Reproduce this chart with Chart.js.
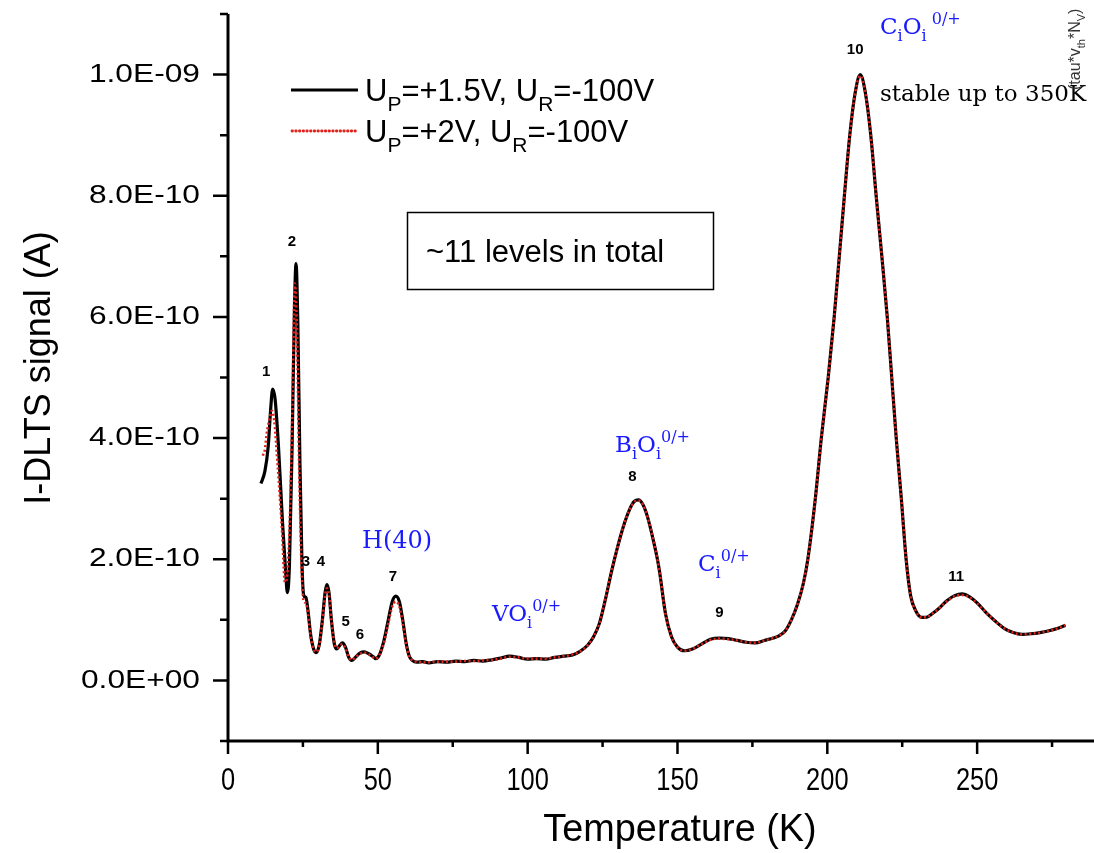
<!DOCTYPE html>
<html>
<head>
<meta charset="utf-8">
<script src="https://cdn.jsdelivr.net/npm/chart.js@4"></script>
<style>
  html, body { margin: 0; padding: 0; background: #fff; }
  canvas { display: block; }
</style>
</head>
<body>
<canvas id="dltsChart" width="1094" height="853"></canvas>
<script>
// signal values are in units of 1e-10 A
const tempBlack = [
  11.0, 12.3, 13.4, 14.2, 14.9, 15.7, 16.8, 18.2, 19.3, 19.8, 20.5, 21.4, 22.2, 22.7, 23.3, 24.0,
  24.7, 25.3, 26.0, 26.7, 27.6, 28.7, 29.5, 30.5, 31.5, 32.4, 33.0, 33.7, 34.5, 35.5, 36.3, 37.3,
  38.2, 39.2, 40.3, 41.3, 42.5, 44.0, 45.5, 47.0, 48.5, 49.3, 50.5, 52.0, 53.5, 54.8, 56.0, 57.2,
  58.3, 59.5, 60.5, 61.5, 63, 65, 67, 70, 73, 76, 79, 82, 85, 88, 91, 94, 97, 100, 103, 106, 109,
  112, 115, 117.5, 120, 122, 124, 126, 128, 130, 132, 134, 135.5, 137, 138.5, 140, 142, 143.3, 144,
  146, 148, 150, 152.3, 155, 158, 161, 164, 167, 170, 173, 176, 179, 182, 184, 186, 188, 190, 192,
  193.5, 196, 198, 200.3, 202.3, 204, 205.7, 207.5, 209.3, 211, 212.7, 214.5, 216.3, 218.2, 220,
  221.5, 223, 224.7, 226.3, 227.8, 229.5, 231.5, 233, 235, 237.5, 240, 242.5, 245, 247.5, 250, 253,
  256, 259, 262, 265, 268, 271, 274, 277, 279.5
];
const signalBlack = [
  3.25, 3.45, 3.85, 4.45, 4.81, 4.65, 3.9, 2.6, 1.75, 1.45, 1.9, 3.9, 6.2, 6.88, 5.9, 3.6,
  1.9, 1.4, 1.37, 1.15, 0.75, 0.50, 0.46, 0.6, 1.0, 1.45, 1.58, 1.45, 1.0, 0.6, 0.52, 0.58,
  0.62, 0.55, 0.38, 0.33, 0.38, 0.45, 0.47, 0.44, 0.39, 0.36, 0.42, 0.65, 1.0, 1.3, 1.39, 1.3,
  1.0, 0.6, 0.40, 0.33, 0.30, 0.31, 0.29, 0.31, 0.30, 0.32, 0.31, 0.33, 0.32, 0.34, 0.37, 0.40, 0.38, 0.35, 0.36, 0.35, 0.38,
  0.40, 0.42, 0.48, 0.58, 0.72, 0.95, 1.35, 1.8, 2.2, 2.55, 2.82, 2.95, 2.98, 2.9, 2.7, 2.3, 2.0, 1.8,
  1.1, 0.72, 0.55, 0.49, 0.52, 0.60, 0.68, 0.70, 0.69, 0.66, 0.63, 0.62, 0.66, 0.70, 0.74, 0.82, 1.0, 1.25, 1.6,
  2.0, 3.0, 4.0, 5.0, 6.0, 7.0, 8.0, 9.0, 9.7, 10.0, 9.7, 9.0, 8.0, 7.0, 6.0,
  5.0, 4.0, 3.0, 2.0, 1.4, 1.15, 1.04, 1.04, 1.10, 1.2, 1.32, 1.40, 1.43, 1.38, 1.28, 1.12,
  0.98, 0.86, 0.79, 0.76, 0.77, 0.79, 0.82, 0.86, 0.91
];

const tempRed = [
  11.6, 12.3, 12.9, 13.8, 14.6, 15.4, 16.5, 18.0, 19.0, 19.8, 20.6, 21.5, 22.3, 23.0, 23.8, 24.6,
  25.3, 26.0, 26.7, 27.6, 28.7, 29.5, 30.5, 31.5, 32.4, 33.0, 33.7, 34.5, 35.5, 36.3, 37.3,
  38.2, 39.2, 40.3, 41.3, 42.5, 44.0, 45.5, 47.0, 48.5, 49.3, 50.5, 52.0, 53.5, 54.8, 56.0, 57.2,
  58.3, 59.5, 60.5, 61.5, 63, 65, 67, 70, 73, 76, 79, 82, 85, 88, 91, 94, 97, 100, 103, 106, 109,
  112, 115, 117.5, 120, 122, 124, 126, 128, 130, 132, 134, 135.5, 137, 138.5, 140, 142, 143.3, 144,
  146, 148, 150, 152.3, 155, 158, 161, 164, 167, 170, 173, 176, 179, 182, 184, 186, 188, 190, 192,
  193.5, 196, 198, 200.3, 202.3, 204, 205.7, 207.5, 209.3, 211, 212.7, 214.5, 216.3, 218.2, 220,
  221.5, 223, 224.7, 226.3, 227.8, 229.5, 231.5, 233, 235, 237.5, 240, 242.5, 245, 247.5, 250, 253,
  256, 259, 262, 265, 268, 271, 274, 277, 279.5
];
const signalRed = [
  3.71, 3.80, 4.07, 4.3, 4.45, 4.3, 3.6, 2.5, 1.62, 1.75, 2.6, 4.5, 6.55, 5.8, 3.4, 1.8,
  1.3, 1.28, 1.1, 0.72, 0.50, 0.47, 0.6, 0.98, 1.4, 1.52, 1.42, 1.0, 0.62, 0.53, 0.57,
  0.60, 0.53, 0.38, 0.34, 0.38, 0.44, 0.46, 0.43, 0.38, 0.36, 0.42, 0.62, 0.95, 1.22, 1.30, 1.22,
  0.95, 0.58, 0.40, 0.33, 0.31, 0.30, 0.30, 0.31, 0.31, 0.31, 0.32, 0.32, 0.33, 0.34, 0.36, 0.39, 0.38, 0.36, 0.36, 0.36, 0.38,
  0.40, 0.43, 0.48, 0.58, 0.72, 0.95, 1.35, 1.8, 2.2, 2.55, 2.82, 2.94, 2.97, 2.9, 2.7, 2.3, 2.0, 1.8,
  1.1, 0.72, 0.55, 0.49, 0.52, 0.60, 0.67, 0.69, 0.68, 0.66, 0.63, 0.62, 0.66, 0.70, 0.74, 0.82, 1.0, 1.25, 1.6,
  2.0, 3.0, 4.0, 5.0, 6.0, 7.0, 8.0, 9.0, 9.7, 9.98, 9.7, 9.0, 8.0, 7.0, 6.0,
  5.0, 4.0, 3.0, 2.0, 1.4, 1.15, 1.04, 1.04, 1.10, 1.2, 1.31, 1.39, 1.41, 1.37, 1.27, 1.12,
  0.98, 0.86, 0.79, 0.76, 0.77, 0.79, 0.82, 0.86, 0.91
];

const xMajorTicks = [0, 50, 100, 150, 200, 250];
const xMinorTicks = [25, 75, 125, 175, 225, 275];
const yMajorTicks = [0, 2, 4, 6, 8, 10];
const yTickLabels = ['0.0E+00', '2.0E-10', '4.0E-10', '6.0E-10', '8.0E-10', '1.0E-09'];
const yMinorTicks = [-1, 1, 3, 5, 7, 9, 11];

// peak numbers, placed at (T, signal)
const peakNames = ['1', '2', '3', '4', '5', '6', '7', '8', '9', '10', '11'];
const peakT = [12.7, 21.3, 26.0, 31.0, 39.3, 44.0, 55.0, 135.0, 164.0, 209.3, 243.0];
const peakY = [5.10, 7.24, 1.95, 1.95, 0.97, 0.76, 1.71, 3.36, 1.12, 10.40, 1.71];

const toPoints = (xs, ys) => xs.map((t, i) => ({ x: t, y: ys[i] }));

const BLUE = '#1a1aff';
const RED = '#e0221c';
const SERIF = '"DejaVu Serif", serif';
const SANS = '"Liberation Sans", Arial, sans-serif';

// draws text made of normal / subscript / superscript pieces
function richText(ctx, x, y, parts, size, family) {
  let cx = x;
  parts.forEach(([txt, kind]) => {
    const s = kind === 'n' ? size : Math.round(size * 0.68);
    const dy = kind === 'sub' ? size * 0.32 : kind === 'sup' ? -size * 0.42 : 0;
    ctx.font = s + 'px ' + family;
    ctx.fillText(txt, cx, y + dy);
    cx += ctx.measureText(txt).width;
  });
  return cx;
}

function stretchedText(ctx, txt, x, y, sx, align) {
  ctx.save();
  ctx.translate(x, y);
  ctx.scale(sx, 1);
  ctx.textAlign = align;
  ctx.fillText(txt, 0, 0);
  ctx.restore();
}

const decorations = {
  id: 'decorations',
  afterDraw(chart) {
    const ctx = chart.ctx;
    const xs = chart.scales.x, ys = chart.scales.y;
    const left = xs.left, bottom = ys.bottom, top = ys.top;
    ctx.save();
    ctx.fillStyle = '#000';
    ctx.strokeStyle = '#000';
    ctx.lineCap = 'butt';

    // axes
    ctx.lineWidth = 3;
    ctx.beginPath();
    ctx.moveTo(left, top);
    ctx.lineTo(left, bottom + 1.5);
    ctx.moveTo(left - 1.5, bottom);
    ctx.lineTo(chart.width, bottom);
    ctx.stroke();

    // x ticks
    ctx.lineWidth = 2.5;
    ctx.beginPath();
    xMajorTicks.forEach(v => { const p = xs.getPixelForValue(v); ctx.moveTo(p, bottom); ctx.lineTo(p, bottom + 13); });
    xMinorTicks.forEach(v => { const p = xs.getPixelForValue(v); ctx.moveTo(p, bottom); ctx.lineTo(p, bottom + 6); });
    // y ticks
    yMajorTicks.forEach(v => { const p = ys.getPixelForValue(v); ctx.moveTo(left, p); ctx.lineTo(left - 15, p); });
    yMinorTicks.forEach(v => { const p = ys.getPixelForValue(v); ctx.moveTo(left, p); ctx.lineTo(left - 8, p); });
    ctx.stroke();

    // tick labels
    ctx.textBaseline = 'alphabetic';
    ctx.font = '31px ' + SANS;
    xMajorTicks.forEach(v => stretchedText(ctx, String(v), xs.getPixelForValue(v), bottom + 49, 0.82, 'center'));
    ctx.font = '26px ' + SANS;
    ctx.textBaseline = 'middle';
    yMajorTicks.forEach((v, i) => stretchedText(ctx, yTickLabels[i], 200, ys.getPixelForValue(v), 1.22, 'right'));

    // axis titles
    ctx.textBaseline = 'alphabetic';
    ctx.font = '39px ' + SANS;
    stretchedText(ctx, 'Temperature (K)', 680, 841, 0.97, 'center');
    ctx.save();
    ctx.translate(50, 368);
    ctx.rotate(-Math.PI / 2);
    ctx.textAlign = 'center';
    ctx.font = '36px ' + SANS;
    ctx.fillText('I-DLTS signal (A)', 0, 0);
    ctx.restore();

    // legend
    ctx.textAlign = 'left';
    ctx.lineWidth = 3;
    ctx.beginPath(); ctx.moveTo(291, 90); ctx.lineTo(358, 90); ctx.stroke();
    ctx.strokeStyle = RED;
    ctx.lineWidth = 2.8;
    ctx.lineCap = 'round';
    ctx.setLineDash([0.5, 3.2]);
    ctx.beginPath(); ctx.moveTo(292, 131); ctx.lineTo(357, 131); ctx.stroke();
    ctx.setLineDash([]);
    ctx.lineCap = 'butt';
    ctx.fillStyle = '#000';
    richText(ctx, 365, 101, [['U', 'n'], ['P', 'sub'], ['=+1.5V, U', 'n'], ['R', 'sub'], ['=-100V', 'n']], 31, SANS);
    richText(ctx, 365, 142, [['U', 'n'], ['P', 'sub'], ['=+2V, U', 'n'], ['R', 'sub'], ['=-100V', 'n']], 31, SANS);

    // boxed note
    ctx.lineWidth = 1.5;
    ctx.strokeStyle = '#000';
    ctx.strokeRect(407.5, 212.5, 306, 77);
    ctx.font = '31px ' + SANS;
    ctx.fillText('~11 levels in total', 426, 262);

    // peak numbers
    ctx.font = 'bold 15px ' + SANS;
    ctx.textAlign = 'center';
    ctx.textBaseline = 'middle';
    peakNames.forEach((n, i) => ctx.fillText(n, xs.getPixelForValue(peakT[i]), ys.getPixelForValue(peakY[i])));

    // defect labels
    ctx.textAlign = 'left';
    ctx.textBaseline = 'alphabetic';
    ctx.fillStyle = BLUE;
    richText(ctx, 362, 548, [['H(40)', 'n']], 24, SERIF);
    richText(ctx, 492, 621, [['VO', 'n'], ['i', 'sub'], ['0/+', 'sup']], 23, SERIF);
    richText(ctx, 615, 452, [['B', 'n'], ['i', 'sub'], ['O', 'n'], ['i', 'sub'], ['0/+', 'sup']], 23, SERIF);
    richText(ctx, 698, 571, [['C', 'n'], ['i', 'sub'], ['0/+', 'sup']], 23, SERIF);
    richText(ctx, 880, 34, [['C', 'n'], ['i', 'sub'], ['O', 'n'], ['i', 'sub'], [' 0/+', 'sup']], 23, SERIF);
    ctx.fillStyle = '#000';
    ctx.font = '23px ' + SERIF;
    ctx.fillText('stable up to 350K', 880, 101);

    // clipped rotated label at the right edge
    ctx.save();
    ctx.translate(1080, 90);
    ctx.rotate(-Math.PI / 2);
    ctx.fillStyle = '#333';
    richText(ctx, 0, 0, [['(tau*v', 'n'], ['th', 'sub'], ['*N', 'n'], ['V', 'sub'], [')', 'n']], 16, SANS);
    ctx.restore();

    ctx.restore();
  }
};

const ctx = document.getElementById('dltsChart').getContext('2d');

const dltsChart = new Chart(ctx, {
  type: 'line',
  data: {
    datasets: [{
      label: 'UP=+1.5V, UR=-100V',
      data: toPoints(tempBlack, signalBlack),
      borderColor: '#000000',
      borderWidth: 3.2,
      pointRadius: 0,
      cubicInterpolationMode: 'monotone',
      order: 2
    }, {
      label: 'UP=+2V, UR=-100V',
      data: toPoints(tempRed, signalRed),
      borderColor: RED,
      borderWidth: 2.6,
      borderDash: [2, 2.5],
      pointRadius: 0,
      cubicInterpolationMode: 'monotone',
      order: 1
    }]
  },
  options: {
    responsive: false,
    animation: false,
    layout: { padding: { left: 228, right: 0, top: 14, bottom: 112 } },
    scales: {
      x: { type: 'linear', min: 0, max: 289, display: false },
      y: { type: 'linear', min: -1, max: 11, display: false }
    },
    plugins: {
      legend: { display: false },
      tooltip: { enabled: false }
    }
  },
  plugins: [decorations]
});
</script>
</body>
</html>
